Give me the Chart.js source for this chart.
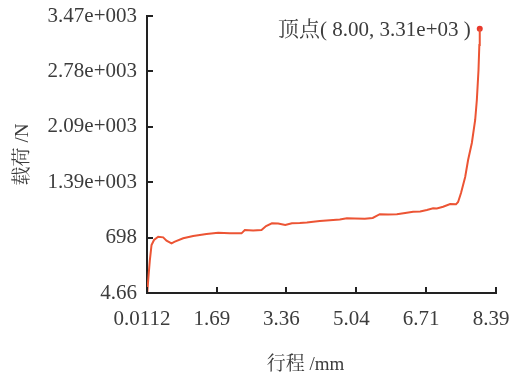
<!DOCTYPE html>
<html>
<head>
<meta charset="utf-8">
<script src="https://cdn.jsdelivr.net/npm/chart.js@4/dist/chart.umd.min.js"></script>
<style>
  html, body { margin: 0; padding: 0; background: #ffffff; }
  #wrap { width: 511px; height: 379px; }
</style>
</head>
<body>
<div id="wrap"><canvas id="c" width="511" height="379"></canvas></div>
<script>
// ---- data ----
const strokeMm = [0.0112, 0.02, 0.04, 0.08, 0.12, 0.18, 0.28, 0.40, 0.48, 0.60, 0.68, 0.88, 1.12, 1.44, 1.72, 2.00, 2.28, 2.36, 2.56, 2.76, 2.87, 3.01, 3.16, 3.33, 3.49, 3.68, 3.85, 4.00, 4.16, 4.48, 4.64, 4.81, 5.00, 5.24, 5.43, 5.60, 5.80, 6.01, 6.21, 6.40, 6.57, 6.73, 6.88, 6.97, 7.12, 7.29, 7.43, 7.48, 7.55, 7.65, 7.72, 7.81, 7.89, 7.93, 7.97, 7.99, 8.00];
const loadN    = [4.66, 21, 167, 417, 605, 668, 709, 701, 659, 626, 647, 689, 718, 743, 759, 751, 751, 793, 787, 793, 843, 877, 874, 855, 877, 880, 887, 897, 905, 918, 924, 939, 937, 934, 943, 990, 987, 989, 1006, 1022, 1024, 1043, 1064, 1062, 1084, 1118, 1114, 1143, 1256, 1456, 1669, 1881, 2169, 2419, 2794, 3107, 3310];
const peakX = [8.00];
const peakY = [3310];
const peakLabel = ["顶点( 8.00, 3.31e+03 )"];
const xTickValues = [0.0112, 1.69, 3.36, 5.04, 6.71, 8.39];
const xTickLabels = ["0.0112", "1.69", "3.36", "5.04", "6.71", "8.39"];
const yTickValues = [4.66, 697.73, 1390.8, 2083.86, 2776.93, 3470];
const yTickLabels = ["4.66", "698", "1.39e+003", "2.09e+003", "2.78e+003", "3.47e+003"];
const xTitle = "行程 /mm";
const yTitle = "载荷 /N";

const FONT = "'Liberation Serif', 'Noto Serif CJK SC', 'Noto Sans CJK SC', serif";
const TEXT = "#3c3c3c";
const LINE = "#ec5434";

const curve = strokeMm.map((x, i) => ({ x: x, y: loadN[i] }));
const peak = peakX.map((x, i) => ({ x: x, y: peakY[i] }));

const innerTicks = {
  id: 'innerTicks',
  afterDatasetsDraw(chart) {
    const ctx = chart.ctx;
    const xs = chart.scales.x, ys = chart.scales.y;
    const area = chart.chartArea;
    ctx.save();
    ctx.strokeStyle = '#222';
    ctx.lineWidth = 2;
    ctx.beginPath();
    xTickValues.forEach(v => {
      const px = Math.round(xs.getPixelForValue(v));
      ctx.moveTo(px, area.bottom);
      ctx.lineTo(px, area.bottom - 6);
    });
    yTickValues.forEach(v => {
      const py = Math.round(ys.getPixelForValue(v));
      ctx.moveTo(area.left, py);
      ctx.lineTo(area.left + 6, py);
    });
    ctx.stroke();
    // x axis title
    ctx.fillStyle = TEXT;
    ctx.font = "19px " + FONT;
    ctx.textAlign = 'center';
    ctx.textBaseline = 'middle';
    ctx.fillText(xTitle, (area.left + area.right) / 2 - 16, area.bottom + 72);
    // peak annotation
    const meta = chart.getDatasetMeta(1);
    meta.data.forEach((el, i) => {
      ctx.font = "21px " + FONT;
      ctx.textAlign = 'right';
      ctx.textBaseline = 'middle';
      ctx.fillText(peakLabel[i], el.x - 9, el.y + 2);
    });
    ctx.restore();
  }
};

new Chart(document.getElementById('c'), {
  type: 'scatter',
  data: {
    datasets: [
      {
        data: curve,
        showLine: true,
        borderColor: LINE,
        borderWidth: 2,
        pointRadius: 0,
        tension: 0
      },
      {
        data: peak,
        showLine: false,
        pointRadius: 3,
        pointBackgroundColor: '#e8382c',
        pointBorderColor: '#e8382c',
        pointBorderWidth: 0
      }
    ]
  },
  options: {
    responsive: false,
    animation: false,
    devicePixelRatio: 1,
    layout: { padding: { left: 0, right: 15, top: 16, bottom: 0 } },
    plugins: { legend: { display: false }, tooltip: { enabled: false } },
    scales: {
      x: {
        type: 'linear',
        min: xTickValues[0],
        max: xTickValues[xTickValues.length - 1],
        afterBuildTicks: s => { s.ticks = xTickValues.map(v => ({ value: v })); },
        afterFit: s => { s.height = 86; s.paddingLeft = 0; s.paddingRight = 0; },
        grid: { drawOnChartArea: false, drawTicks: false },
        border: { display: true, color: '#222', width: 2 },
        ticks: {
          autoSkip: false,
          maxRotation: 0,
          padding: 14,
          labelOffset: -5,
          color: TEXT,
          font: { family: FONT, size: 21 },
          callback: (v, i) => xTickLabels[i]
        },
        title: { display: false }
      },
      y: {
        type: 'linear',
        min: yTickValues[0],
        max: yTickValues[yTickValues.length - 1],
        afterBuildTicks: s => { s.ticks = yTickValues.map(v => ({ value: v })); },
        afterFit: s => { s.width = 147; s.paddingTop = 0; s.paddingBottom = 0; },
        grid: { drawOnChartArea: false, drawTicks: false },
        border: { display: true, color: '#222', width: 2 },
        ticks: {
          autoSkip: false,
          padding: 10,
          color: TEXT,
          font: { family: FONT, size: 21 },
          callback: (v, i) => yTickLabels[i]
        },
        title: {
          display: true,
          text: yTitle,
          color: TEXT,
          font: { family: FONT, size: 19 },
          padding: { top: 12, bottom: 0 }
        }
      }
    }
  },
  plugins: [innerTicks]
});
</script>
</body>
</html>
